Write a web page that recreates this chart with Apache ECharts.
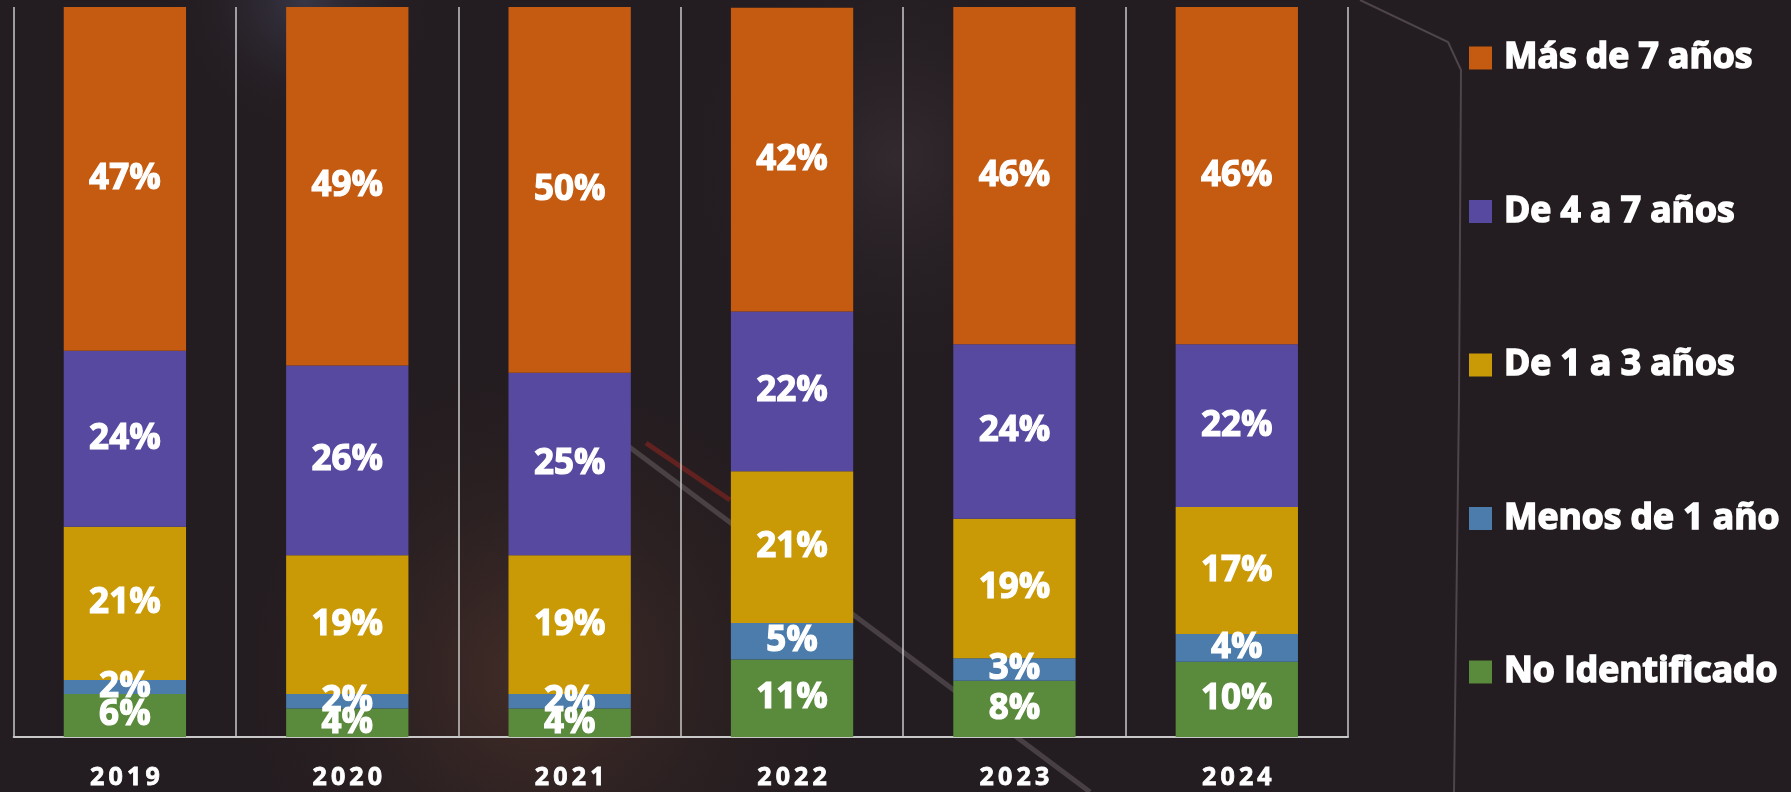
<!DOCTYPE html>
<html>
<head>
<meta charset="utf-8">
<script src="https://cdn.jsdelivr.net/npm/echarts@6/dist/echarts.min.js"></script>
<style>
html,body{margin:0;padding:0;background:#231c20;}
#chart{width:1791px;height:792px;}
</style>
</head>
<body>
<div id="chart"></div>
<script>
var years = ['2019', '2020', '2021', '2022', '2023', '2024']
var noIdent = [5.9, 3.9, 3.9, 10.6, 7.7, 10.3]
var menos1 = [1.9, 2.0, 2.0, 5.0, 3.1, 3.8]
var de1a3 = [21.0, 19.0, 19.0, 20.8, 19.1, 17.4]
var de4a7 = [24.1, 26.0, 25.0, 21.9, 23.9, 22.3]
var mas7 = [47.1, 49.1, 50.1, 41.6, 46.2, 46.2]

var chart = echarts.init(document.getElementById('chart'))

// white text border makes the bold face look heavier, like the original
var label_style = {
    show: true,
    position: 'inside',
    color: '#ffffff',
    fontFamily: 'Open Sans',
    fontWeight: 'bold',
    fontSize: 35,
    textBorderColor: '#ffffff',
    textBorderWidth: 1.2,
    formatter: function(p){ return Math.round(p.value) + '%' }
}

var mk = function(name, data, color){
    return {
        name: name,
        type: 'bar',
        stack: 'total',
        barWidth: '55%',
        data: data,
        itemStyle: {color: color},
        label: label_style
    }
}

var opt = {
    backgroundColor: '#231c20',
    textStyle: {fontFamily: 'Open Sans'},
    graphic: [
        // soft glows of the photo behind
        {type: 'rect', silent: true, z: -10, shape: {x: 0, y: 0, width: 1791, height: 792},
            style: {fill: {type: 'radial', x: 0.3, y: 0.85, r: 0.45,
                colorStops: [{offset: 0, color: 'rgba(95,60,45,0.55)'}, {offset: 1, color: 'rgba(35,28,32,0)'}]}}},
        {type: 'rect', silent: true, z: -10, shape: {x: 0, y: 0, width: 1791, height: 792},
            style: {fill: {type: 'radial', x: 0.17, y: 0.0, r: 0.18,
                colorStops: [{offset: 0, color: 'rgba(70,72,95,0.6)'}, {offset: 1, color: 'rgba(35,28,32,0)'}]}}},
        {type: 'rect', silent: true, z: -10, shape: {x: 0, y: 0, width: 1791, height: 792},
            style: {fill: {type: 'radial', x: 0.5, y: 0.2, r: 0.3,
                colorStops: [{offset: 0, color: 'rgba(65,55,60,0.5)'}, {offset: 1, color: 'rgba(35,28,32,0)'}]}}},
        {type: 'polyline', silent: true, z: -5,
            shape: {points: [[1360, 0], [1448, 42], [1461, 70], [1459, 400], [1454, 792]]},
            style: {stroke: 'rgba(120,110,115,0.5)', lineWidth: 2, fill: null}},
        {type: 'line', silent: true, z: -5,
            shape: {x1: 620, y1: 440, x2: 1090, y2: 792},
            style: {stroke: 'rgba(200,190,190,0.22)', lineWidth: 5}},
        {type: 'line', silent: true, z: -5,
            shape: {x1: 646, y1: 443, x2: 730, y2: 500},
            style: {stroke: 'rgba(170,40,30,0.45)', lineWidth: 5}}
    ],
    legend: {
        orient: 'vertical',
        left: 1464,
        top: 33,
        itemWidth: 23,
        itemHeight: 23,
        itemGap: 113.5,
        icon: 'rect',
        data: ['Más de 7 años', 'De 4 a 7 años', 'De 1 a 3 años', 'Menos de 1 año', 'No Identificado'],
        textStyle: {
            color: '#ffffff',
            fontFamily: 'Open Sans',
            fontWeight: 'bold',
            fontSize: 35.5,
            lineHeight: 40,
            textBorderColor: '#ffffff',
            textBorderWidth: 1.6,
            padding: [0, 0, 0, 7]
        }
    },
    grid: {left: 13.7, right: 443, top: 7, bottom: 55},
    xAxis: {
        type: 'category',
        data: years,
        axisTick: {show: false},
        axisLine: {lineStyle: {color: '#c8c8c8', width: 2}},
        splitLine: {show: true, lineStyle: {color: '#c8c8c8', width: 1.5}},
        axisLabel: {
            color: '#ffffff',
            fontFamily: 'Open Sans',
            fontWeight: 'bold',
            fontSize: 25,
            margin: 28,
            textBorderColor: '#ffffff',
            textBorderWidth: 0.8,
            formatter: function(v){ return v.split('').join('\u2009') }
        }
    },
    yAxis: {
        type: 'value',
        min: 0,
        max: 100,
        show: false,
        splitLine: {show: false}
    },
    series: [
        mk('No Identificado', noIdent, '#5a8a3b'),
        mk('Menos de 1 año', menos1, '#4b7cab'),
        mk('De 1 a 3 años', de1a3, '#c99a06'),
        mk('De 4 a 7 años', de4a7, '#5749a0'),
        mk('Más de 7 años', mas7, '#c55a11')
    ]
}

chart.setOption(opt)
</script>
</body>
</html>
